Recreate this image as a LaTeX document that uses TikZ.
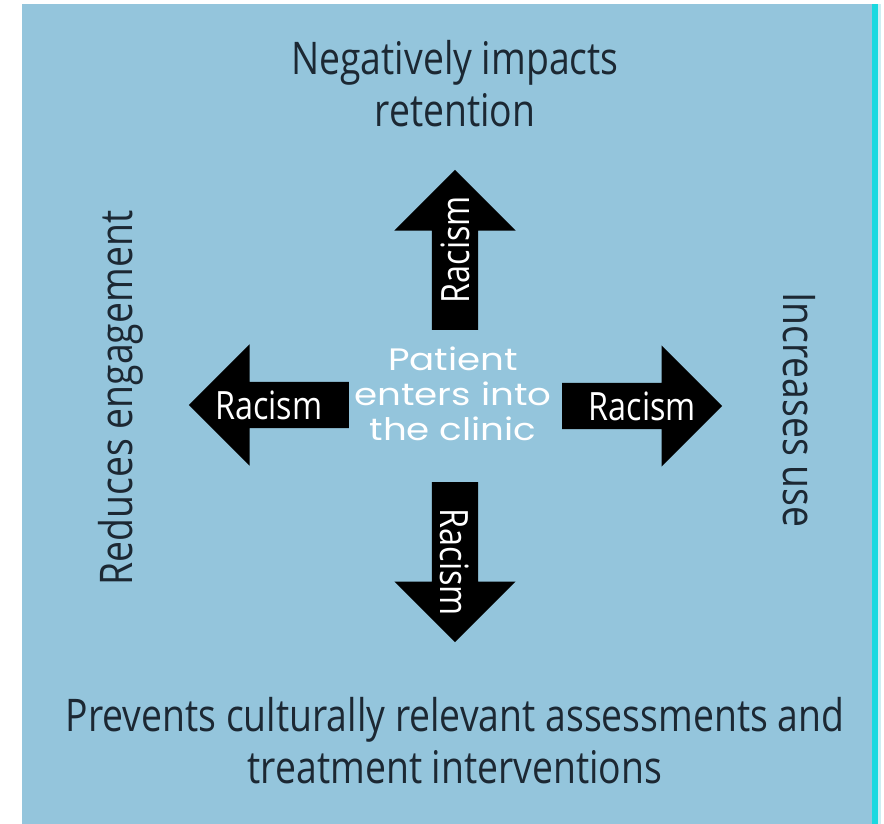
\documentclass[tikz,border=0pt]{standalone}
\usepackage{fontspec}
\setmainfont{Open Sans}[FakeStretch = 0.83]
\newfontfamily\clinicfont{Poppins}[FakeStretch = 1.2]
\usetikzlibrary{shapes.arrows, positioning, calc}

\definecolor{panel}{RGB}{148,197,220}
\definecolor{rim}{RGB}{25,217,224}
\definecolor{rimlight}{RGB}{205,238,242}
\definecolor{ink}{RGB}{28,40,51}

\tikzset{
  racism/.style = {
    single arrow,
    fill = black,
    minimum height = 160pt,
    single arrow head extend = 37.5pt,
    single arrow tip angle = 90,
    inner xsep = 0pt,
    inner ysep = 11.5pt,
    text height = 23pt,
    text depth = 0pt,
    anchor = tail
  },
  racism label/.style = {
    text = white,
    inner sep = 0pt,
    font = \fontsize{39}{42}\selectfont
  },
  outcome/.style = {
    text = ink,
    align = center,
    inner sep = 0pt,
    font = \fontsize{45}{52}\selectfont
  }
}

\begin{document}
\begin{tikzpicture}[x = 1pt, y = -1pt]
      \useasboundingbox (0, 0) rectangle (884, 824);
      \fill [panel] (22, 4) rectangle (872, 824);
      \fill [rim] (872, 4) rectangle (878, 824);
      \fill [rimlight] (878, 4) rectangle (881, 824);

      \node [racism, rotate = 90]               (racism up)    at (455, 330) {};
      \node [racism, rotate = -90]              (racism down)  at (455, 482) {};
      \node [racism, shape border rotate = 180] (racism left)  at (349, 405) {};
      \node [racism]                            (racism right) at (562, 406) {};

      \node [racism label, rotate = 90]  (label up)
        at ($(racism up.tail)!0.5!(racism up.tip)$) {Racism};
      \node [racism label, rotate = -90] (label down)
        at ($(racism down.tail)!0.5!(racism down.tip)$) {Racism};
      \node [racism label] (label left)
        at ($(racism left.tail)!0.5!(racism left.tip)$) {Racism};
      \node [racism label] (label right)
        at ($(racism right.tail)!0.5!(racism right.tip)$) {Racism};

      \node [text = white, align = center, inner sep = 0pt,
        font = \clinicfont\fontsize{31}{35}\selectfont]
        (patient) at (453, 394) {Patient\\enters into\\the clinic};

      \node [outcome, anchor = base] (retention)  at (455, 127)
        {Negatively impacts\\retention};
      \node [outcome, rotate = 90, anchor = base]  (engagement) at (132, 398)
        {Reduces engagement};
      \node [outcome, rotate = -90, anchor = base] (use)        at (783, 410)
        {Increases use};
      \node [outcome, anchor = base] (prevents)   at (455, 783)
        {Prevents culturally relevant assessments and\\treatment interventions};
\end{tikzpicture}
\end{document}
